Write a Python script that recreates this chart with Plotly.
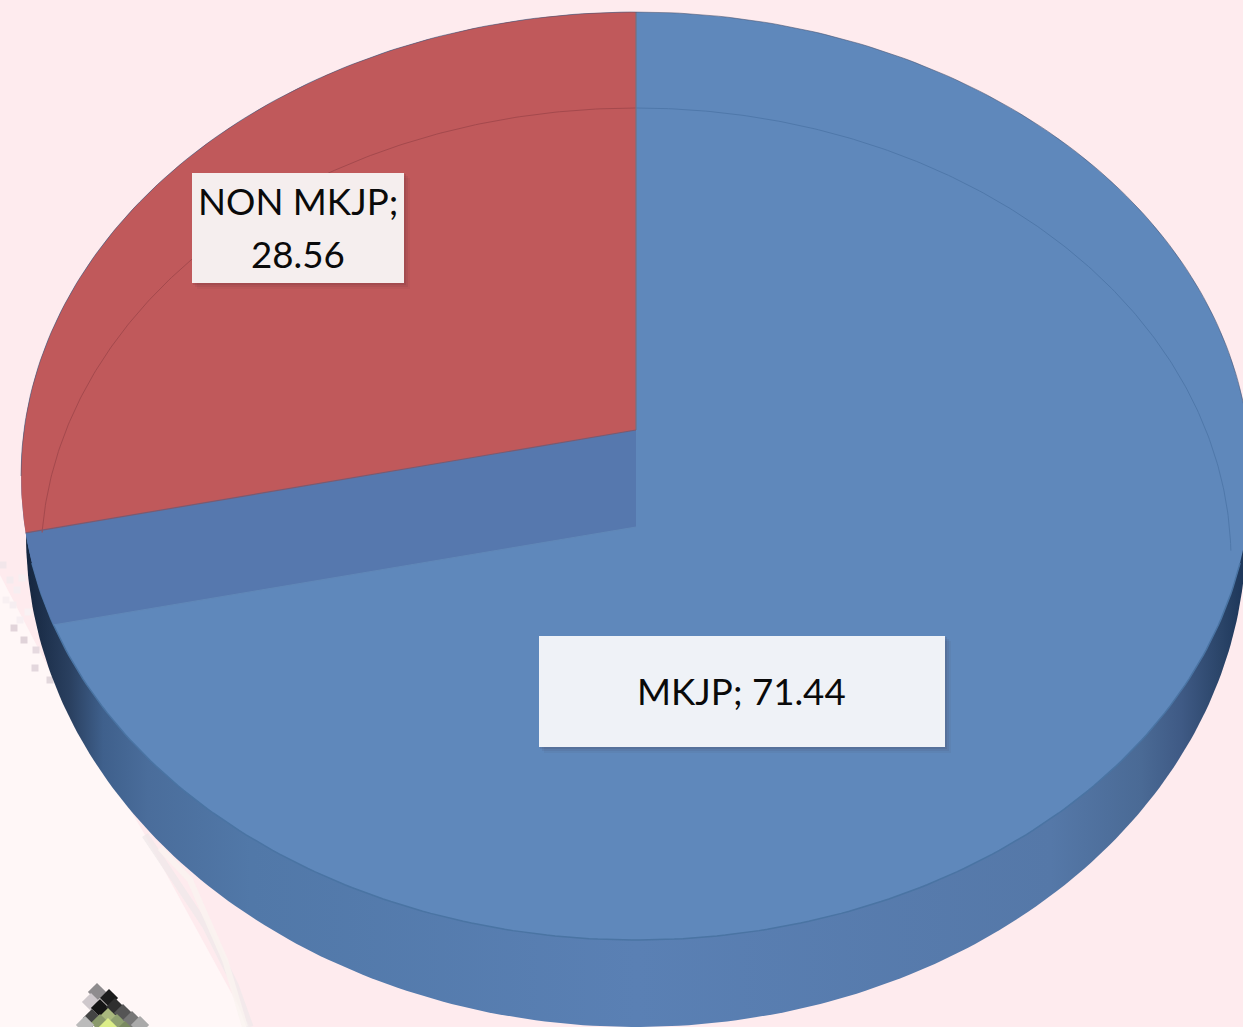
import numpy as np
import plotly.graph_objects as go

# --- data ---
categories = ["MKJP", "NON MKJP"]
values = [71.44, 28.56]
slice_colors = ["#5f88bb", "#c0595b"]
label_fill = ["#eff2f7", "#f5eeee"]

# --- drawing geometry (pixel-like axis space) ---
W, H = 1243, 1027
CX, CY, RX, RY = 636, 476, 615, 464      # top face
WALL_CY, WALL_RX, WALL_RY = 535, 610, 492
APEX_Y = 430                             # raised tip of the NON MKJP slice
DROP = 97                                # height of the exposed cut face
INNER_CY, INNER_RX, INNER_RY = 560, 595, 452
BOXES = {"MKJP": (539, 945, 636, 747), "NON MKJP": (192, 404, 173, 283)}
FONT = "Lato, 'Open Sans', sans-serif"

# decorative pixel scraps from the source image
speck_x = [3, 10, 17, 22, 6, 13, 20, 14, 28, 40, 24, 36, 46, 35, 55, 62, 50]
speck_y = [565, 580, 590, 578, 600, 605, 620, 628, 612, 628, 640, 650, 648, 668, 660, 672, 680]
speck_c = ["#f2e6ea", "#f4ebee", "#f6eef1", "#f7eff1", "#f8f0f2", "#f6eef1", "#f7eff2", "#e2d4da",
           "#f9f1f3", "#f9f2f4", "#e0d3d9", "#e6dae0", "#f8eff2", "#e3d7dd", "#f8eef1", "#f6ecef", "#e2d7dc"]
tile_x = [97, 91, 109, 100, 115, 92, 123, 108, 100, 117, 132, 85, 140, 108, 125]
tile_y = [992, 1002, 998, 1008, 1007, 1018, 1013, 1017, 1023, 1023, 1020, 1025, 1025, 1027, 1030]
tile_c = ["#8f8c8e", "#cfc8cc", "#1c1c1c", "#151515", "#2f2f2f", "#444444", "#555555", "#a9b87e",
          "#8b9a6c", "#8fa070", "#777777", "#bbbbbb", "#aaaaaa", "#dcee88", "#7a8a60"]


def arc(t0, t1, cy=CY, rx=RX, ry=RY, n=200):
    """Clockwise-from-top parameter angle -> x, y on an ellipse."""
    t = np.linspace(t0, t1, n)
    return CX + rx * np.sin(t), cy - ry * np.cos(t)


def angle_at_y(y):
    """Left-side parameter angle on the top face at height y (negative = left)."""
    return -np.arccos((CY - y) / RY)


fig = go.Figure()


def poly(x, y, color=None, line=None, width=0, gradient=None):
    kw = dict(fillgradient=gradient) if gradient else dict(fillcolor=color)
    fig.add_trace(go.Scatter(
        x=list(x), y=list(y), mode="lines", fill="toself",
        line=dict(color=line or "rgba(0,0,0,0)", width=width),
        hoverinfo="skip", showlegend=False, **kw))


def stroke(x, y, color, width=1):
    fig.add_trace(go.Scatter(x=list(x), y=list(y), mode="lines",
                             line=dict(color=color, width=width),
                             hoverinfo="skip", showlegend=False))


# --- background: paler patch behind the pie, lower left ---
poly([0, 60, 145, 250, 0], [575, 690, 835, 1027, 1027], "#fff7f7")
fig.add_trace(go.Scatter(x=speck_x, y=speck_y, mode="markers", hoverinfo="skip", showlegend=False,
                         marker=dict(symbol="square", size=7, color=speck_c, line_width=0)))
stroke([145, 175, 205, 235, 250], [835, 880, 925, 985, 1027], "rgba(240,232,234,0.8)", 7)
stroke([160, 190, 225, 245], [848, 880, 960, 1027], "rgba(250,244,240,0.8)", 6)

# --- scrap of pixelated artwork bottom left ---
fig.add_trace(go.Scatter(x=tile_x, y=tile_y, mode="markers", hoverinfo="skip", showlegend=False,
                         marker=dict(symbol="diamond", size=14, color=tile_c, line_width=0)))

# --- side wall ---
wx, wy = arc(0, 2 * np.pi, cy=WALL_CY, rx=WALL_RX, ry=WALL_RY, n=400)
poly(wx, wy, gradient=dict(type="horizontal", colorscale=[
    [0.0, "#15263f"], [0.036, "#2a4060"], [0.063, "#3f608c"], [0.10, "#4a6d9b"], [0.184, "#5178a8"],
    [0.5, "#5a80b4"], [0.84, "#5578a8"], [0.914, "#4a6a95"], [0.947, "#3f5a85"], [0.98, "#2a4468"],
    [1.0, "#1c3558"]]))

# --- top face ---
tx, ty = arc(0, 2 * np.pi, n=400)
poly(tx, ty, slice_colors[0])

# --- front rim line of the top face ---
rx_, ry_ = arc(np.pi * 0.56, np.pi * 1.44)
stroke(rx_, ry_, "#4a74a3", 1.5)

# --- faint inner ring over the top face (blue part) ---
ix, iy = arc(0, 1.55, cy=INNER_CY, rx=INNER_RX, ry=INNER_RY)
stroke(ix, iy, "#4f78aa", 1)

# --- raised NON MKJP slice and the cut face under it ---
share = values[1] / sum(values)
end_y = APEX_Y - RY * np.cos(2 * np.pi * share)
t_end = angle_at_y(end_y)
t_low = angle_at_y(end_y + DROP - 5)

cut_x, cut_y = arc(t_end, t_low, n=30)
poly([CX] + list(cut_x) + [CX], [APEX_Y] + list(cut_y) + [APEX_Y + DROP], "#5678ae")

ax, ay = arc(0, t_end)
poly([CX] + list(ax), [APEX_Y] + list(ay), slice_colors[1])

jx, jy = arc(0, -1.51, cy=INNER_CY, rx=INNER_RX, ry=INNER_RY)
stroke(jx, jy, "#a4494d", 1)

# --- seams ---
stroke([CX, CX], [CY - RY, APEX_Y], "#76707f", 1.2)
stroke([CX, ax[-1]], [APEX_Y, ay[-1]], "#7b5a70", 1.2)
stroke([CX, cut_x[-1]], [APEX_Y + DROP, cut_y[-1]], "#6188b8", 1)

# --- top rim line ---
ox, oy = arc(-np.pi * 0.5, np.pi * 0.5)
stroke(ox, oy, "rgba(70,80,110,0.55)", 1)

# --- labels ---
shapes = []
for i, name in enumerate(categories):
    x0, x1, y0, y1 = BOXES[name]
    for off, alpha in ((6, 0.05), (4, 0.07), (2, 0.10)):
        shapes.append(dict(type="rect", x0=x0 - 1 + off, x1=x1 + off, y0=y0 - 1 + off, y1=y1 + off,
                           fillcolor=f"rgba(60,30,40,{alpha})", line_width=0, layer="above"))
    shapes.append(dict(type="rect", x0=x0, x1=x1, y0=y0, y1=y1,
                       fillcolor=label_fill[i], line_width=0, layer="above"))

annotations = [
    dict(x=741, y=691, text=f"{categories[0]}; {values[0]}"),
    dict(x=298, y=201, text=f"{categories[1]};"),
    dict(x=298, y=254, text=f"{values[1]}"),
]
for a in annotations:
    a.update(xref="x", yref="y", showarrow=False, xanchor="center", yanchor="middle",
             font=dict(family=FONT, size=36.7, color="#0a0a0a"))

fig.update_layout(
    width=W, height=H, margin=dict(l=0, r=0, t=0, b=0),
    paper_bgcolor="#feebee", plot_bgcolor="#feebee",
    xaxis=dict(range=[0, W], visible=False, fixedrange=True),
    yaxis=dict(range=[H, 0], visible=False, fixedrange=True),
    shapes=shapes, annotations=annotations, showlegend=False,
)

fig.write_html("out.html", config=dict(displayModeBar=False),
               post_script="document.body.style.margin='0';document.body.style.overflow='hidden';")
